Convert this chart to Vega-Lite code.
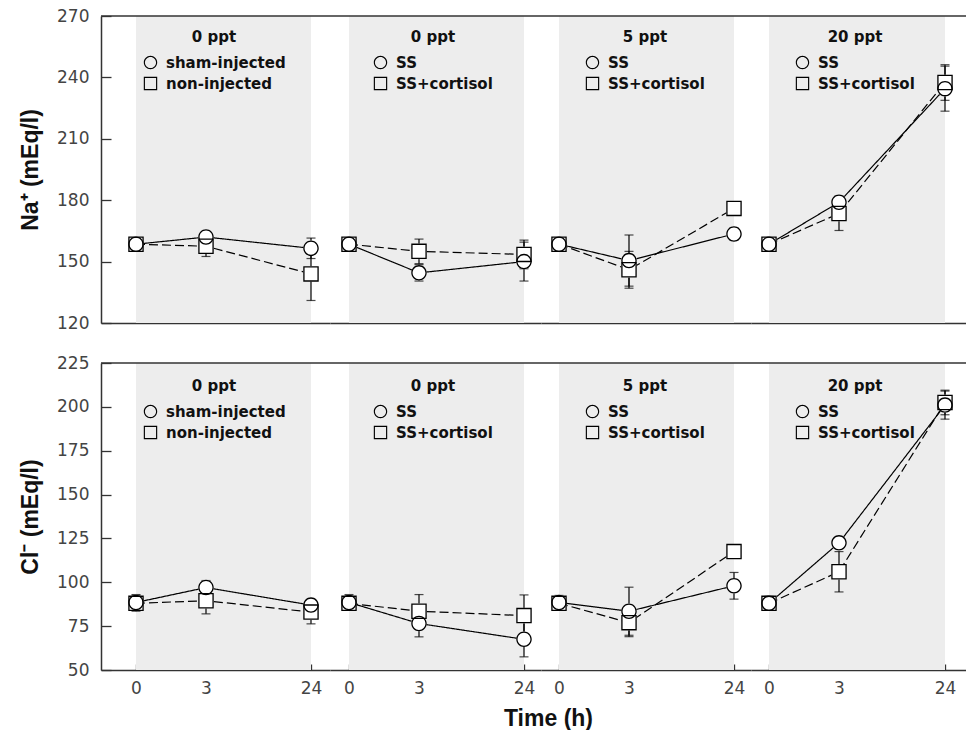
{
  "$schema": "https://vega.github.io/schema/vega-lite/v6.json",
  "padding": {"left": 19, "top": 7, "right": 0, "bottom": 0},
  "datasets": {
    "na": [
      {"group": "g1", "salinity": "0 ppt", "treatment": "sham-injected", "time": 0, "mean": 158.5, "se": 2},
      {"group": "g1", "salinity": "0 ppt", "treatment": "sham-injected", "time": 3, "mean": 162, "se": 2},
      {"group": "g1", "salinity": "0 ppt", "treatment": "sham-injected", "time": 24, "mean": 156.5, "se": 5},
      {"group": "g1", "salinity": "0 ppt", "treatment": "non-injected", "time": 0, "mean": 158.5, "se": 2},
      {"group": "g1", "salinity": "0 ppt", "treatment": "non-injected", "time": 3, "mean": 157.5, "se": 5},
      {"group": "g1", "salinity": "0 ppt", "treatment": "non-injected", "time": 24, "mean": 144, "se": 13},
      {"group": "g2", "salinity": "0 ppt", "treatment": "SS", "time": 0, "mean": 158.5, "se": 2},
      {"group": "g2", "salinity": "0 ppt", "treatment": "SS", "time": 3, "mean": 144.5, "se": 4},
      {"group": "g2", "salinity": "0 ppt", "treatment": "SS", "time": 24, "mean": 150, "se": 9.5},
      {"group": "g2", "salinity": "0 ppt", "treatment": "SS+cortisol", "time": 0, "mean": 158.5, "se": 2},
      {"group": "g2", "salinity": "0 ppt", "treatment": "SS+cortisol", "time": 3, "mean": 155, "se": 6},
      {"group": "g2", "salinity": "0 ppt", "treatment": "SS+cortisol", "time": 24, "mean": 153.5, "se": 7},
      {"group": "g3", "salinity": "5 ppt", "treatment": "SS", "time": 0, "mean": 158.5, "se": 1.5},
      {"group": "g3", "salinity": "5 ppt", "treatment": "SS", "time": 3, "mean": 150.5, "se": 12.5},
      {"group": "g3", "salinity": "5 ppt", "treatment": "SS", "time": 24, "mean": 163.5, "se": 3},
      {"group": "g3", "salinity": "5 ppt", "treatment": "SS+cortisol", "time": 0, "mean": 158.5, "se": 1.5},
      {"group": "g3", "salinity": "5 ppt", "treatment": "SS+cortisol", "time": 3, "mean": 146, "se": 9},
      {"group": "g3", "salinity": "5 ppt", "treatment": "SS+cortisol", "time": 24, "mean": 176, "se": 1.5},
      {"group": "g4", "salinity": "20 ppt", "treatment": "SS", "time": 0, "mean": 158.5, "se": 1.5},
      {"group": "g4", "salinity": "20 ppt", "treatment": "SS", "time": 3, "mean": 179, "se": 3},
      {"group": "g4", "salinity": "20 ppt", "treatment": "SS", "time": 24, "mean": 234.5, "se": 11},
      {"group": "g4", "salinity": "20 ppt", "treatment": "SS+cortisol", "time": 0, "mean": 158.5, "se": 1.5},
      {"group": "g4", "salinity": "20 ppt", "treatment": "SS+cortisol", "time": 3, "mean": 173.5, "se": 8.3},
      {"group": "g4", "salinity": "20 ppt", "treatment": "SS+cortisol", "time": 24, "mean": 237.5, "se": 8.7}
    ],
    "cl": [
      {"group": "g1", "salinity": "0 ppt", "treatment": "sham-injected", "time": 0, "mean": 88.5, "se": 4.5},
      {"group": "g1", "salinity": "0 ppt", "treatment": "sham-injected", "time": 3, "mean": 97, "se": 4},
      {"group": "g1", "salinity": "0 ppt", "treatment": "sham-injected", "time": 24, "mean": 87, "se": 2.6},
      {"group": "g1", "salinity": "0 ppt", "treatment": "non-injected", "time": 0, "mean": 88, "se": 4.5},
      {"group": "g1", "salinity": "0 ppt", "treatment": "non-injected", "time": 3, "mean": 89.5, "se": 7.5},
      {"group": "g1", "salinity": "0 ppt", "treatment": "non-injected", "time": 24, "mean": 83, "se": 6.7},
      {"group": "g2", "salinity": "0 ppt", "treatment": "SS", "time": 0, "mean": 88.5, "se": 4.5},
      {"group": "g2", "salinity": "0 ppt", "treatment": "SS", "time": 3, "mean": 76.5, "se": 7.6},
      {"group": "g2", "salinity": "0 ppt", "treatment": "SS", "time": 24, "mean": 67.5, "se": 10},
      {"group": "g2", "salinity": "0 ppt", "treatment": "SS+cortisol", "time": 0, "mean": 88, "se": 4},
      {"group": "g2", "salinity": "0 ppt", "treatment": "SS+cortisol", "time": 3, "mean": 83.5, "se": 9.5},
      {"group": "g2", "salinity": "0 ppt", "treatment": "SS+cortisol", "time": 24, "mean": 81, "se": 11.8},
      {"group": "g3", "salinity": "5 ppt", "treatment": "SS", "time": 0, "mean": 88.5, "se": 4},
      {"group": "g3", "salinity": "5 ppt", "treatment": "SS", "time": 3, "mean": 83.5, "se": 13.7},
      {"group": "g3", "salinity": "5 ppt", "treatment": "SS", "time": 24, "mean": 98, "se": 7.6},
      {"group": "g3", "salinity": "5 ppt", "treatment": "SS+cortisol", "time": 0, "mean": 88, "se": 3.5},
      {"group": "g3", "salinity": "5 ppt", "treatment": "SS+cortisol", "time": 3, "mean": 77, "se": 8},
      {"group": "g3", "salinity": "5 ppt", "treatment": "SS+cortisol", "time": 24, "mean": 117.5, "se": 1.5},
      {"group": "g4", "salinity": "20 ppt", "treatment": "SS", "time": 0, "mean": 88, "se": 4},
      {"group": "g4", "salinity": "20 ppt", "treatment": "SS", "time": 3, "mean": 122.5, "se": 2},
      {"group": "g4", "salinity": "20 ppt", "treatment": "SS", "time": 24, "mean": 201, "se": 8},
      {"group": "g4", "salinity": "20 ppt", "treatment": "SS+cortisol", "time": 0, "mean": 88, "se": 4},
      {"group": "g4", "salinity": "20 ppt", "treatment": "SS+cortisol", "time": 3, "mean": 106, "se": 11.5},
      {"group": "g4", "salinity": "20 ppt", "treatment": "SS+cortisol", "time": 24, "mean": 202.5, "se": 7}
    ]
  },
  "columns": 4,
  "bounds": "flush",
  "spacing": {"row": 40, "column": 0},
  "resolve": {"scale": {"x": "independent", "y": "independent", "shape": "independent"}, "legend": {"shape": "independent"}},
  "concat": [
    {
      "width": 229, "height": 307,
      "layer": [
        {"data": {"values": [{"start": 0, "end": 24}]}, "mark": {"type": "rect", "color": "#ededed"},
         "encoding": {"x": {"field": "start", "type": "quantitative", "scale": {"domain": [-1, 0, 3, 24, 30], "range": [0, 35, 105, 210, 229], "nice": false, "zero": false}, "axis": {"labels": false, "ticks": false, "title": null}}, "x2": {"field": "end"}}},
        {"data": {"name": "na"}, "transform": [{"filter": {"field": "group", "equal": "g1"}}],
         "encoding": {"x": {"field": "time", "type": "quantitative", "title": null},
                      "y": {"field": "mean", "type": "quantitative", "title": "Na⁺ (mEq/l)", "scale": {"domain": [120, 270], "nice": false, "zero": false},
                            "axis": {"values": [120, 135, 150, 165, 180, 195, 210, 225, 240, 255, 270], "labelExpr": "datum.value % 30 == 0 ? datum.label : ''", "tickSize": {"condition": {"test": "datum.value % 30 == 0", "value": -10}, "value": -5}, "labelPadding": 22, "titlePadding": 14, "titleFontSize": 23}}},
         "layer": [
           {"mark": {"type": "errorbar", "color": "black", "thickness": 1.2, "ticks": {"size": 9}}, "encoding": {"yError": {"field": "se"}}},
           {"mark": {"type": "line", "color": "black", "strokeWidth": 1.2}, "encoding": {"detail": {"field": "treatment"}, "strokeDash": {"condition": {"test": "datum.treatment == 'non-injected' || datum.treatment == 'SS+cortisol'", "value": [9, 4]}, "value": [1, 0]}}},
           {"mark": {"type": "point", "filled": true, "color": "white", "size": 240, "opacity": 1}, "encoding": {"shape": {"condition": {"test": "datum.treatment == 'non-injected' || datum.treatment == 'SS+cortisol'", "value": "square"}, "value": "circle"}}},
           {"mark": {"type": "point", "filled": true, "color": "black", "strokeWidth": 0, "size": 240, "opacity": 1},
            "encoding": {"shape": {"field": "treatment", "type": "nominal", "scale": {"domain": ["sham-injected", "non-injected"], "range": ["M1,0A1,1 0 1,1 -1,0A1,1 0 1,1 1,0ZM0.83,0A0.83,0.83 0 1,0 -0.83,0A0.83,0.83 0 1,0 0.83,0Z", "M-1,-1H1V1H-1ZM-0.83,-0.83V0.83H0.83V-0.83Z"]},
              "legend": {"title": "0 ppt", "orient": "none", "legendX": 42, "legendY": 14}}}}
         ]},
        {"data": {"values": [{}]}, "mark": {"type": "rule", "color": "#333", "strokeWidth": 1.5}, "encoding": {"y": {"datum": 270}}}
      ]
    },
    {
      "width": 211, "height": 307,
      "layer": [
        {"data": {"values": [{"start": 0, "end": 24}]}, "mark": {"type": "rect", "color": "#ededed"},
         "encoding": {"x": {"field": "start", "type": "quantitative", "scale": {"domain": [-1, 0, 3, 24, 30], "range": [0, 19, 89, 194, 211], "nice": false, "zero": false}, "axis": {"labels": false, "ticks": false, "title": null}}, "x2": {"field": "end"}}},
        {"data": {"name": "na"}, "transform": [{"filter": {"field": "group", "equal": "g2"}}],
         "encoding": {"x": {"field": "time", "type": "quantitative", "title": null},
                      "y": {"field": "mean", "type": "quantitative", "scale": {"domain": [120, 270], "nice": false, "zero": false}, "axis": null}},
         "layer": [
           {"mark": {"type": "errorbar", "color": "black", "thickness": 1.2, "ticks": {"size": 9}}, "encoding": {"yError": {"field": "se"}}},
           {"mark": {"type": "line", "color": "black", "strokeWidth": 1.2}, "encoding": {"detail": {"field": "treatment"}, "strokeDash": {"condition": {"test": "datum.treatment == 'non-injected' || datum.treatment == 'SS+cortisol'", "value": [9, 4]}, "value": [1, 0]}}},
           {"mark": {"type": "point", "filled": true, "color": "white", "size": 240, "opacity": 1}, "encoding": {"shape": {"condition": {"test": "datum.treatment == 'non-injected' || datum.treatment == 'SS+cortisol'", "value": "square"}, "value": "circle"}}},
           {"mark": {"type": "point", "filled": true, "color": "black", "strokeWidth": 0, "size": 240, "opacity": 1},
            "encoding": {"shape": {"field": "treatment", "type": "nominal", "scale": {"domain": ["SS", "SS+cortisol"], "range": ["M1,0A1,1 0 1,1 -1,0A1,1 0 1,1 1,0ZM0.83,0A0.83,0.83 0 1,0 -0.83,0A0.83,0.83 0 1,0 0.83,0Z", "M-1,-1H1V1H-1ZM-0.83,-0.83V0.83H0.83V-0.83Z"]},
              "legend": {"title": "0 ppt", "orient": "none", "legendX": 43, "legendY": 14}}}}
         ]},
        {"data": {"values": [{}]}, "mark": {"type": "rule", "color": "#333", "strokeWidth": 1.5}, "encoding": {"y": {"datum": 270}}}
      ]
    },
    {
      "width": 210, "height": 307,
      "layer": [
        {"data": {"values": [{"start": 0, "end": 24}]}, "mark": {"type": "rect", "color": "#ededed"},
         "encoding": {"x": {"field": "start", "type": "quantitative", "scale": {"domain": [-1, 0, 3, 24, 30], "range": [0, 18, 88, 193, 210], "nice": false, "zero": false}, "axis": {"labels": false, "ticks": false, "title": null}}, "x2": {"field": "end"}}},
        {"data": {"name": "na"}, "transform": [{"filter": {"field": "group", "equal": "g3"}}],
         "encoding": {"x": {"field": "time", "type": "quantitative", "title": null},
                      "y": {"field": "mean", "type": "quantitative", "scale": {"domain": [120, 270], "nice": false, "zero": false}, "axis": null}},
         "layer": [
           {"mark": {"type": "errorbar", "color": "black", "thickness": 1.2, "ticks": {"size": 9}}, "encoding": {"yError": {"field": "se"}}},
           {"mark": {"type": "line", "color": "black", "strokeWidth": 1.2}, "encoding": {"detail": {"field": "treatment"}, "strokeDash": {"condition": {"test": "datum.treatment == 'non-injected' || datum.treatment == 'SS+cortisol'", "value": [9, 4]}, "value": [1, 0]}}},
           {"mark": {"type": "point", "filled": true, "color": "white", "size": 240, "opacity": 1}, "encoding": {"shape": {"condition": {"test": "datum.treatment == 'non-injected' || datum.treatment == 'SS+cortisol'", "value": "square"}, "value": "circle"}}},
           {"mark": {"type": "point", "filled": true, "color": "black", "strokeWidth": 0, "size": 240, "opacity": 1},
            "encoding": {"shape": {"field": "treatment", "type": "nominal", "scale": {"domain": ["SS", "SS+cortisol"], "range": ["M1,0A1,1 0 1,1 -1,0A1,1 0 1,1 1,0ZM0.83,0A0.83,0.83 0 1,0 -0.83,0A0.83,0.83 0 1,0 0.83,0Z", "M-1,-1H1V1H-1ZM-0.83,-0.83V0.83H0.83V-0.83Z"]},
              "legend": {"title": "5 ppt", "orient": "none", "legendX": 44, "legendY": 14}}}}
         ]},
        {"data": {"values": [{}]}, "mark": {"type": "rule", "color": "#333", "strokeWidth": 1.5}, "encoding": {"y": {"datum": 270}}}
      ]
    },
    {
      "width": 218, "height": 307,
      "layer": [
        {"data": {"values": [{"start": 0, "end": 24}]}, "mark": {"type": "rect", "color": "#ededed"},
         "encoding": {"x": {"field": "start", "type": "quantitative", "scale": {"domain": [-1, 0, 3, 24, 30], "range": [0, 18, 88, 194, 218], "nice": false, "zero": false}, "axis": {"labels": false, "ticks": false, "title": null}}, "x2": {"field": "end"}}},
        {"data": {"name": "na"}, "transform": [{"filter": {"field": "group", "equal": "g4"}}],
         "encoding": {"x": {"field": "time", "type": "quantitative", "title": null},
                      "y": {"field": "mean", "type": "quantitative", "scale": {"domain": [120, 270], "nice": false, "zero": false}, "axis": null}},
         "layer": [
           {"mark": {"type": "errorbar", "color": "black", "thickness": 1.2, "ticks": {"size": 9}}, "encoding": {"yError": {"field": "se"}}},
           {"mark": {"type": "line", "color": "black", "strokeWidth": 1.2}, "encoding": {"detail": {"field": "treatment"}, "strokeDash": {"condition": {"test": "datum.treatment == 'non-injected' || datum.treatment == 'SS+cortisol'", "value": [9, 4]}, "value": [1, 0]}}},
           {"mark": {"type": "point", "filled": true, "color": "white", "size": 240, "opacity": 1}, "encoding": {"shape": {"condition": {"test": "datum.treatment == 'non-injected' || datum.treatment == 'SS+cortisol'", "value": "square"}, "value": "circle"}}},
           {"mark": {"type": "point", "filled": true, "color": "black", "strokeWidth": 0, "size": 240, "opacity": 1},
            "encoding": {"shape": {"field": "treatment", "type": "nominal", "scale": {"domain": ["SS", "SS+cortisol"], "range": ["M1,0A1,1 0 1,1 -1,0A1,1 0 1,1 1,0ZM0.83,0A0.83,0.83 0 1,0 -0.83,0A0.83,0.83 0 1,0 0.83,0Z", "M-1,-1H1V1H-1ZM-0.83,-0.83V0.83H0.83V-0.83Z"]},
              "legend": {"title": "20 ppt", "orient": "none", "legendX": 44, "legendY": 14}}}}
         ]},
        {"data": {"values": [{}]}, "mark": {"type": "rule", "color": "#333", "strokeWidth": 1.5}, "encoding": {"y": {"datum": 270}}}
      ]
    },
    {
      "width": 229, "height": 307,
      "layer": [
        {"data": {"values": [{"start": 0, "end": 24}]}, "mark": {"type": "rect", "color": "#ededed"},
         "encoding": {"x": {"field": "start", "type": "quantitative", "scale": {"domain": [-1, 0, 3, 24, 30], "range": [0, 35, 105, 210, 229], "nice": false, "zero": false}, "axis": {"values": [0, 3, 24], "tickSize": -6, "labelPadding": 16, "title": null}}, "x2": {"field": "end"}}},
        {"data": {"name": "cl"}, "transform": [{"filter": {"field": "group", "equal": "g1"}}],
         "encoding": {"x": {"field": "time", "type": "quantitative", "title": null},
                      "y": {"field": "mean", "type": "quantitative", "title": "Cl⁻ (mEq/l)", "scale": {"domain": [50, 225], "nice": false, "zero": false},
                            "axis": {"values": [50, 62.5, 75, 87.5, 100, 112.5, 125, 137.5, 150, 162.5, 175, 187.5, 200, 212.5, 225], "labelExpr": "datum.value % 25 == 0 ? datum.label : ''", "tickSize": {"condition": {"test": "datum.value % 25 == 0", "value": -10}, "value": -5}, "labelPadding": 22, "titlePadding": 14, "titleFontSize": 23}}},
         "layer": [
           {"mark": {"type": "errorbar", "color": "black", "thickness": 1.2, "ticks": {"size": 9}}, "encoding": {"yError": {"field": "se"}}},
           {"mark": {"type": "line", "color": "black", "strokeWidth": 1.2}, "encoding": {"detail": {"field": "treatment"}, "strokeDash": {"condition": {"test": "datum.treatment == 'non-injected' || datum.treatment == 'SS+cortisol'", "value": [9, 4]}, "value": [1, 0]}}},
           {"mark": {"type": "point", "filled": true, "color": "white", "size": 240, "opacity": 1}, "encoding": {"shape": {"condition": {"test": "datum.treatment == 'non-injected' || datum.treatment == 'SS+cortisol'", "value": "square"}, "value": "circle"}}},
           {"mark": {"type": "point", "filled": true, "color": "black", "strokeWidth": 0, "size": 240, "opacity": 1},
            "encoding": {"shape": {"field": "treatment", "type": "nominal", "scale": {"domain": ["sham-injected", "non-injected"], "range": ["M1,0A1,1 0 1,1 -1,0A1,1 0 1,1 1,0ZM0.83,0A0.83,0.83 0 1,0 -0.83,0A0.83,0.83 0 1,0 0.83,0Z", "M-1,-1H1V1H-1ZM-0.83,-0.83V0.83H0.83V-0.83Z"]},
              "legend": {"title": "0 ppt", "orient": "none", "legendX": 42, "legendY": 16}}}}
         ]},
        {"data": {"values": [{}]}, "mark": {"type": "rule", "color": "#333", "strokeWidth": 1.5}, "encoding": {"y": {"datum": 225}}}
      ]
    },
    {
      "width": 211, "height": 307,
      "layer": [
        {"data": {"values": [{"start": 0, "end": 24}]}, "mark": {"type": "rect", "color": "#ededed"},
         "encoding": {"x": {"field": "start", "type": "quantitative", "scale": {"domain": [-1, 0, 3, 24, 30], "range": [0, 19, 89, 194, 211], "nice": false, "zero": false}, "axis": {"values": [0, 3, 24], "tickSize": -6, "labelPadding": 16, "title": "Time (h)", "titleX": 218, "titleY": 48, "titleAlign": "center", "titleBaseline": "middle", "titleFontSize": 23}}, "x2": {"field": "end"}}},
        {"data": {"name": "cl"}, "transform": [{"filter": {"field": "group", "equal": "g2"}}],
         "encoding": {"x": {"field": "time", "type": "quantitative"},
                      "y": {"field": "mean", "type": "quantitative", "scale": {"domain": [50, 225], "nice": false, "zero": false}, "axis": null}},
         "layer": [
           {"mark": {"type": "errorbar", "color": "black", "thickness": 1.2, "ticks": {"size": 9}}, "encoding": {"yError": {"field": "se"}}},
           {"mark": {"type": "line", "color": "black", "strokeWidth": 1.2}, "encoding": {"detail": {"field": "treatment"}, "strokeDash": {"condition": {"test": "datum.treatment == 'non-injected' || datum.treatment == 'SS+cortisol'", "value": [9, 4]}, "value": [1, 0]}}},
           {"mark": {"type": "point", "filled": true, "color": "white", "size": 240, "opacity": 1}, "encoding": {"shape": {"condition": {"test": "datum.treatment == 'non-injected' || datum.treatment == 'SS+cortisol'", "value": "square"}, "value": "circle"}}},
           {"mark": {"type": "point", "filled": true, "color": "black", "strokeWidth": 0, "size": 240, "opacity": 1},
            "encoding": {"shape": {"field": "treatment", "type": "nominal", "scale": {"domain": ["SS", "SS+cortisol"], "range": ["M1,0A1,1 0 1,1 -1,0A1,1 0 1,1 1,0ZM0.83,0A0.83,0.83 0 1,0 -0.83,0A0.83,0.83 0 1,0 0.83,0Z", "M-1,-1H1V1H-1ZM-0.83,-0.83V0.83H0.83V-0.83Z"]},
              "legend": {"title": "0 ppt", "orient": "none", "legendX": 43, "legendY": 16}}}}
         ]},
        {"data": {"values": [{}]}, "mark": {"type": "rule", "color": "#333", "strokeWidth": 1.5}, "encoding": {"y": {"datum": 225}}}
      ]
    },
    {
      "width": 210, "height": 307,
      "layer": [
        {"data": {"values": [{"start": 0, "end": 24}]}, "mark": {"type": "rect", "color": "#ededed"},
         "encoding": {"x": {"field": "start", "type": "quantitative", "scale": {"domain": [-1, 0, 3, 24, 30], "range": [0, 18, 88, 193, 210], "nice": false, "zero": false}, "axis": {"values": [0, 3, 24], "tickSize": -6, "labelPadding": 16, "title": null}}, "x2": {"field": "end"}}},
        {"data": {"name": "cl"}, "transform": [{"filter": {"field": "group", "equal": "g3"}}],
         "encoding": {"x": {"field": "time", "type": "quantitative", "title": null},
                      "y": {"field": "mean", "type": "quantitative", "scale": {"domain": [50, 225], "nice": false, "zero": false}, "axis": null}},
         "layer": [
           {"mark": {"type": "errorbar", "color": "black", "thickness": 1.2, "ticks": {"size": 9}}, "encoding": {"yError": {"field": "se"}}},
           {"mark": {"type": "line", "color": "black", "strokeWidth": 1.2}, "encoding": {"detail": {"field": "treatment"}, "strokeDash": {"condition": {"test": "datum.treatment == 'non-injected' || datum.treatment == 'SS+cortisol'", "value": [9, 4]}, "value": [1, 0]}}},
           {"mark": {"type": "point", "filled": true, "color": "white", "size": 240, "opacity": 1}, "encoding": {"shape": {"condition": {"test": "datum.treatment == 'non-injected' || datum.treatment == 'SS+cortisol'", "value": "square"}, "value": "circle"}}},
           {"mark": {"type": "point", "filled": true, "color": "black", "strokeWidth": 0, "size": 240, "opacity": 1},
            "encoding": {"shape": {"field": "treatment", "type": "nominal", "scale": {"domain": ["SS", "SS+cortisol"], "range": ["M1,0A1,1 0 1,1 -1,0A1,1 0 1,1 1,0ZM0.83,0A0.83,0.83 0 1,0 -0.83,0A0.83,0.83 0 1,0 0.83,0Z", "M-1,-1H1V1H-1ZM-0.83,-0.83V0.83H0.83V-0.83Z"]},
              "legend": {"title": "5 ppt", "orient": "none", "legendX": 44, "legendY": 16}}}}
         ]},
        {"data": {"values": [{}]}, "mark": {"type": "rule", "color": "#333", "strokeWidth": 1.5}, "encoding": {"y": {"datum": 225}}}
      ]
    },
    {
      "width": 218, "height": 307,
      "layer": [
        {"data": {"values": [{"start": 0, "end": 24}]}, "mark": {"type": "rect", "color": "#ededed"},
         "encoding": {"x": {"field": "start", "type": "quantitative", "scale": {"domain": [-1, 0, 3, 24, 30], "range": [0, 18, 88, 194, 218], "nice": false, "zero": false}, "axis": {"values": [0, 3, 24], "tickSize": -6, "labelPadding": 16, "title": null}}, "x2": {"field": "end"}}},
        {"data": {"name": "cl"}, "transform": [{"filter": {"field": "group", "equal": "g4"}}],
         "encoding": {"x": {"field": "time", "type": "quantitative", "title": null},
                      "y": {"field": "mean", "type": "quantitative", "scale": {"domain": [50, 225], "nice": false, "zero": false}, "axis": null}},
         "layer": [
           {"mark": {"type": "errorbar", "color": "black", "thickness": 1.2, "ticks": {"size": 9}}, "encoding": {"yError": {"field": "se"}}},
           {"mark": {"type": "line", "color": "black", "strokeWidth": 1.2}, "encoding": {"detail": {"field": "treatment"}, "strokeDash": {"condition": {"test": "datum.treatment == 'non-injected' || datum.treatment == 'SS+cortisol'", "value": [9, 4]}, "value": [1, 0]}}},
           {"mark": {"type": "point", "filled": true, "color": "white", "size": 240, "opacity": 1}, "encoding": {"shape": {"condition": {"test": "datum.treatment == 'non-injected' || datum.treatment == 'SS+cortisol'", "value": "square"}, "value": "circle"}}},
           {"mark": {"type": "point", "filled": true, "color": "black", "strokeWidth": 0, "size": 240, "opacity": 1},
            "encoding": {"shape": {"field": "treatment", "type": "nominal", "scale": {"domain": ["SS", "SS+cortisol"], "range": ["M1,0A1,1 0 1,1 -1,0A1,1 0 1,1 1,0ZM0.83,0A0.83,0.83 0 1,0 -0.83,0A0.83,0.83 0 1,0 0.83,0Z", "M-1,-1H1V1H-1ZM-0.83,-0.83V0.83H0.83V-0.83Z"]},
              "legend": {"title": "20 ppt", "orient": "none", "legendX": 44, "legendY": 16}}}}
         ]},
        {"data": {"values": [{}]}, "mark": {"type": "rule", "color": "#333", "strokeWidth": 1.5}, "encoding": {"y": {"datum": 225}}}
      ]
    }
  ],
  "config": {
    "view": {"stroke": null},
    "axis": {"grid": false, "domainColor": "#333", "domainWidth": 1.5, "tickColor": "#333", "tickWidth": 1.3, "labelFont": "DejaVu Sans", "labelFontSize": 17, "labelColor": "#444", "labelFlush": false, "labelOverlap": false, "titleFont": "Liberation Sans", "titleFontWeight": "bold", "titleColor": "#111"},
    "legend": {"titleFont": "DejaVu Sans", "titleFontSize": 15, "titleFontWeight": "bold", "titleColor": "#111", "titleAnchor": "middle", "titlePadding": 10, "labelFont": "DejaVu Sans", "labelFontSize": 15, "labelFontWeight": "bold", "labelColor": "#111", "labelOffset": 8, "rowPadding": 0, "symbolSize": 180}
  }
}
